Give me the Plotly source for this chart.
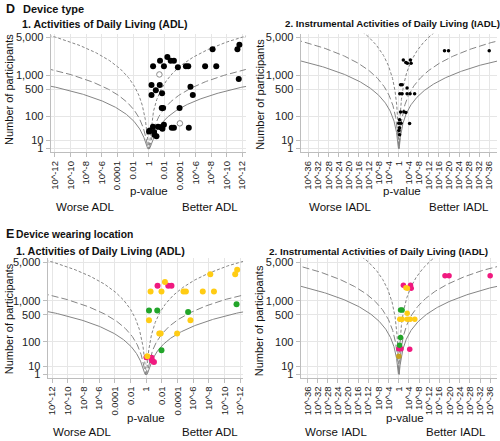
import math
import numpy as np
import plotly.graph_objects as go

# ---------------- data ----------------
# ADL studies: p-value (direction: better ADL), number of participants,
# wearing location code (M = magenta, Y = yellow, G = green, "" = not shown in E),
# hollow marker flag (shown only in panel D)
adl_p = [0.27, 0.035, 0.004, 0.0015, 0.00058, 0.011, 0.00018, 1.7e-5, 8.5e-6, 5.9e-8,
         2.2e-9, 6.5e-9, 4.3e-12, 2.4e-12, 2.9e-12, 0.042, 0.43, 0.038, 0.12, 0.43,
         0.019, 4.4e-6, 2.2e-6, 0.021, 0.014, 0.00011, 0.0001, 0.0011, 0.00058, 7.2e-6,
         0.011, 0.89, 0.71, 0.28, 0.20, 0.18, 0.10, 0.063, 0.028, 0.017]
adl_n = [1520, 1950, 2280, 1950, 1950, 1520, 1460, 1520, 1520, 1520,
         1520, 3150, 3150, 3750, 850, 1050, 626, 626, 478, 372,
         410, 575, 372, 171, 171, 171, 58, 40, 40, 40,
         52, 28, 31, 44, 27, 20, 17, 44, 42, 37]
adl_loc = ["Y", "M", "Y", "M", "M", "Y", "", "Y", "Y", "Y",
           "Y", "Y", "Y", "Y", "G", "", "G", "G", "", "Y",
           "", "G", "Y", "Y", "Y", "Y", "", "", "", "",
           "G", "M", "Y", "", "M", "M", "M", "", "", ""]
adl_hollow = [0, 0, 0, 0, 0, 0, 0, 0, 0, 0,
              0, 0, 0, 0, 0, 1, 0, 0, 0, 0,
              0, 0, 0, 0, 0, 0, 1, 0, 0, 0,
              0, 0, 0, 0, 0, 0, 0, 0, 0, 0]

# IADL studies
iadl_p = [0.016, 0.0016, 0.0004, 2.5e-5, 1.3e-5, 6.3e-19, 1.6e-20, 1e-36,
          0.2, 0.05, 0.0005, 0.4, 0.05, 0.0005, 3.2e-5, 5e-7,
          0.2, 0.01, 0.0016, 0.5, 0.98, 0.13, 5e-5, 0.95, 0.5, 0.5]
iadl_n = [2000, 1800, 1750, 2000, 1750, 2950, 2950, 2950,
          640, 640, 540, 395, 395, 395, 395, 395,
          133, 135, 128, 77, 59, 59, 57, 31, 40, 20]
iadl_loc = ["M", "Y", "Y", "M", "M", "M", "M", "M",
            "G", "G", "Y", "Y", "Y", "Y", "Y", "Y",
            "G", "", "", "G", "M", "M", "M", "O", "", ""]

loc_colors = {"M": "#f0197f", "Y": "#ffcc14", "G": "#22a52a", "O": "#c6a020"}

# effect-size contours (standardised mean difference)
contour_sizes = [0.2, 0.4, 0.6]
contour_dash = ["3px,2px", "7px,3px", "solid"]

# axis ticks
y_tick_n = [1, 10, 100, 500, 1000, 5000]
y_tick_text = ["1", "10", "100", "500", "1,000", "5,000"]
adl_xt = [-12, -10, -8, -6, -4, -2, 0, 2, 4, 6, 8, 10, 12]
adl_xt_text = ["10^-12", "10^-10", "10^-8", "10^-6", "0.0001", "0.01", "1",
               "0.01", "0.0001", "10^-6", "10^-8", "10^-10", "10^-12"]
iadl_xt = list(range(-36, 37, 4))
iadl_xt_text = ["10^-%d" % abs(v) if v != 0 else "1" for v in iadl_xt]

# ---------------- helpers ----------------
W, H = 500, 441
FONT = "Liberation Sans, Arial, sans-serif"


def fx(px):
    return px / W


def fy(py):
    return 1 - py / H


def ty(n):
    return np.log10(np.asarray(n, dtype=float)) ** 2


def tx(p):
    return -np.log10(np.asarray(p, dtype=float))


def contour(d):
    n = np.logspace(0, 4.0, 500)
    z = d * np.sqrt(n) / 2
    p = np.array([math.erfc(v / math.sqrt(2)) for v in z])
    xd = -np.log10(p)
    y = np.log10(n) ** 2
    return np.concatenate([-xd[::-1], xd]), np.concatenate([y[::-1], y])


fig = go.Figure()

panels = {
    # name: (x px range, y px range, x data range, y data range)
    "1": ((49, 246), (32, 152), (-12.55, 12.47), (-0.45, 14.15)),
    "2": ((301, 499), (32, 152), (-39.1, 39.1), (-0.45, 14.15)),
    "3": ((46, 243), (259, 380), (-12.57, 12.37), (-0.40, 14.21)),
    "4": ((301, 499), (259, 380), (-38.7, 38.7), (-0.40, 14.21)),
}

for key, (xpx, ypx, xr, yr) in panels.items():
    sfx = "" if key == "1" else key
    is_adl = key in ("1", "3")
    fig.layout["xaxis" + sfx] = dict(
        domain=[fx(xpx[0]), fx(xpx[1])], range=list(xr), anchor="y" + sfx,
        tickmode="array", tickvals=adl_xt if is_adl else iadl_xt,
        ticktext=adl_xt_text if is_adl else iadl_xt_text,
        tickangle=-90, tickfont=dict(family=FONT, size=9.5, color="#222"),
        showgrid=True, gridcolor="#e6e6e6", gridwidth=1, zeroline=False,
        showline=True, linecolor="#bdbdbd", ticks="outside", ticklen=4,
        tickcolor="#bdbdbd",
    )
    fig.layout["yaxis" + sfx] = dict(
        domain=[fy(ypx[1]), fy(ypx[0])], range=list(yr), anchor="x" + sfx,
        tickmode="array", tickvals=list(ty(y_tick_n)), ticktext=y_tick_text,
        tickfont=dict(family=FONT, size=11, color="#222"),
        showgrid=True, gridcolor="#e6e6e6", gridwidth=1, zeroline=False,
        showline=True, linecolor="#bdbdbd", ticks="outside", ticklen=4,
        tickcolor="#bdbdbd",
    )
    # contours
    for d, dash in zip(contour_sizes, contour_dash):
        cx, cy = contour(d)
        fig.add_trace(go.Scatter(
            x=cx, y=cy, mode="lines", xaxis="x" + sfx, yaxis="y" + sfx,
            line=dict(color="#858585", width=1, dash=dash), hoverinfo="skip",
            showlegend=False))

# Panel D1: black / hollow markers
adl_x = tx(adl_p)
adl_y = ty(adl_n)
fill_idx = [i for i, h in enumerate(adl_hollow) if not h]
hol_idx = [i for i, h in enumerate(adl_hollow) if h]
fig.add_trace(go.Scatter(
    x=adl_x[fill_idx], y=adl_y[fill_idx], mode="markers", xaxis="x", yaxis="y",
    marker=dict(size=6, color="black"), showlegend=False))
fig.add_trace(go.Scatter(
    x=adl_x[hol_idx], y=adl_y[hol_idx], mode="markers", xaxis="x", yaxis="y",
    marker=dict(size=5.5, color="white", line=dict(color="#8a8a8a", width=1)),
    showlegend=False))

# Panel D2: small black dots
iadl_x = tx(iadl_p)
iadl_y = ty(iadl_n)
fig.add_trace(go.Scatter(
    x=iadl_x, y=iadl_y, mode="markers", xaxis="x2", yaxis="y2",
    marker=dict(size=3.5, color="black"), showlegend=False))

# Panels E1 / E2: colored by wearing location
for code, col in loc_colors.items():
    idx = [i for i, c in enumerate(adl_loc) if c == code]
    if idx:
        fig.add_trace(go.Scatter(
            x=adl_x[idx], y=adl_y[idx], mode="markers", xaxis="x3", yaxis="y3",
            marker=dict(size=6, color=col), showlegend=False))
    idx = [i for i, c in enumerate(iadl_loc) if c == code]
    if idx:
        fig.add_trace(go.Scatter(
            x=iadl_x[idx], y=iadl_y[idx], mode="markers", xaxis="x4", yaxis="y4",
            marker=dict(size=5.5, color=col), showlegend=False))

ann = []


def text(s, x, y, size, anchor="left", angle=0, bold=False):
    ann.append(dict(text=("<b>%s</b>" % s) if bold else s, x=fx(x), y=fy(y),
                    xref="paper", yref="paper", xanchor=anchor, yanchor="middle",
                    showarrow=False, textangle=angle,
                    font=dict(family=FONT, size=size, color="#111")))


text("D", 2, 7, 12.5, bold=True)
text("Device type", 19, 7, 11, bold=True)
text("1. Activities of Daily Living (ADL)", 18, 22, 10.6, bold=True)
text("2. Instrumental Activities of Daily Living (IADL)", 283, 22, 9.7, bold=True)
text("E", 2, 235, 12.5, bold=True)
text("Device wearing location", 12, 235, 10.3, bold=True)
text("1. Activities of Daily Living (ADL)", 12, 252, 10.8, bold=True)
text("2. Instrumental Activities of Daily Living (IADL)", 267, 252, 9.9, bold=True)

for (x, y) in [(7, 88), (260, 93), (7, 320), (259, 322)]:
    text("Number of participants", x, y, 11, anchor="center", angle=-90)
for (x, y) in [(148, 191), (403, 191), (145, 421), (406, 421)]:
    text("p-value", x, y, 11.5, anchor="center")

text("Worse ADL", 52, 207, 11.5)
text("Better ADL", 240, 207, 11.5, anchor="right")
text("Worse IADL", 307, 207, 11.5)
text("Better IADL", 493, 207, 11.5, anchor="right")
text("Worse ADL", 49, 435, 11.5)
text("Better ADL", 240, 435, 11.5, anchor="right")
text("Worse IADL", 303, 435, 11.5)
text("Better IADL", 490, 435, 11.5, anchor="right")

fig.update_layout(
    width=W, height=H, margin=dict(l=0, r=0, t=0, b=0),
    paper_bgcolor="white", plot_bgcolor="white",
    annotations=ann, showlegend=False,
    font=dict(family=FONT),
)

fig.write_html(
    "out.html",
    config={"displayModeBar": False},
    post_script="document.body.style.margin='0';document.body.style.overflow='hidden';",
)
